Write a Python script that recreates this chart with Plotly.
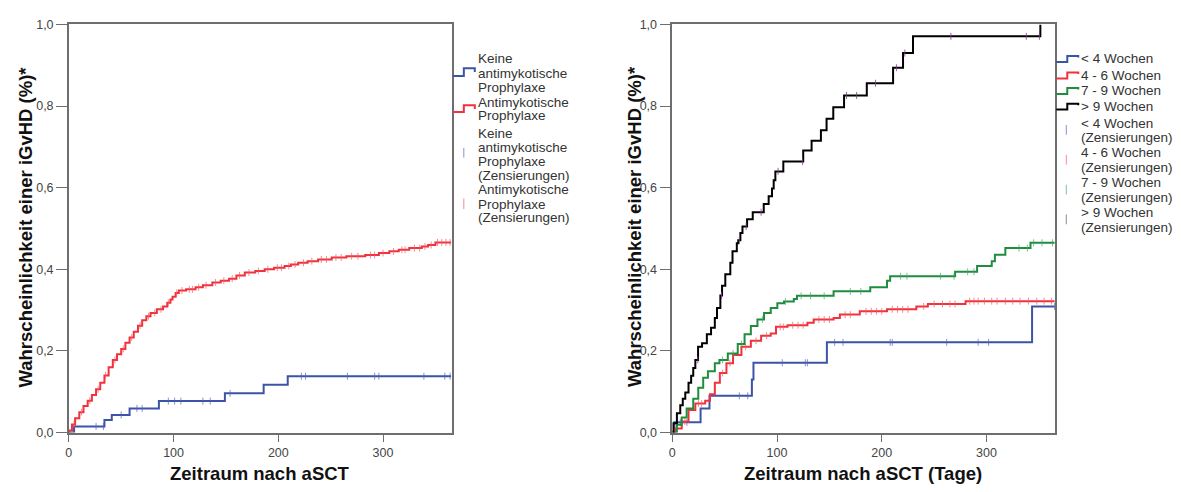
import numpy as np
import plotly.graph_objects as go

W, H = 1182, 492

# ---------------- data ----------------
# Left panel: cumulative probability (step events: day, value)
L_none_t = [5, 34, 41, 58, 86, 149, 186, 209]
L_none_v = [0.015, 0.031, 0.043, 0.059, 0.077, 0.096, 0.117, 0.138]
L_none_cens = [26, 33, 50, 65, 70, 95, 101, 107, 128, 135, 154, 222, 226, 266, 292, 296, 339, 359, 364]

L_pro_t = [0.5, 3, 6, 10, 14, 18, 22, 26, 30, 34, 38, 42, 46, 50, 54, 58, 62, 66, 70, 74, 78, 84, 90,
           94, 97, 99, 102, 105, 112, 121, 128, 137, 145, 153, 160, 168, 178, 187, 196, 206, 212, 219,
           228, 238, 251, 265, 283, 296, 306, 315, 325, 337, 343, 350]
L_pro_v = [0.005, 0.02, 0.035, 0.05, 0.065, 0.078, 0.092, 0.106, 0.122, 0.14, 0.16, 0.178, 0.192, 0.205,
           0.22, 0.233, 0.247, 0.262, 0.275, 0.285, 0.293, 0.302, 0.309, 0.318, 0.326, 0.333, 0.342,
           0.348, 0.351, 0.356, 0.361, 0.368, 0.372, 0.377, 0.385, 0.392, 0.396, 0.400, 0.404, 0.408,
           0.412, 0.416, 0.420, 0.424, 0.429, 0.432, 0.435, 0.440, 0.444, 0.448, 0.452, 0.456, 0.4595, 0.466]
L_pro_cens = [5, 12, 20, 28, 35, 44, 52, 60, 68, 76, 82, 88, 95, 103, 108, 115, 118, 124, 131, 140, 148,
              156, 163, 172, 181, 190, 199, 203, 210, 216, 224, 232, 241, 246, 255, 260, 270, 276, 288,
              292, 300, 310, 318, 321, 330, 335, 340, 346, 352, 356, 360, 364]
L_end = 365

# Right panel
R_lt4_t = [2, 27, 35.5, 76, 77.5, 147.6, 343.5]
R_lt4_v = [0.025, 0.059, 0.09, 0.13, 0.171, 0.221, 0.309]
R_lt4_cens = [7.6, 14, 64, 72, 105, 127, 129, 155, 163, 208, 210, 262, 292, 302, 365]

R_46_t = [3, 9, 15.5, 22, 31.4, 36, 40.6, 45.4, 51.7, 58, 66, 75, 84.8, 94, 99, 110, 129, 135, 154, 160,
          179, 205, 233, 244, 280]
R_46_v = [0.01, 0.027, 0.055, 0.071, 0.078, 0.094, 0.122, 0.146, 0.17, 0.19, 0.21, 0.225, 0.237, 0.243,
          0.259, 0.263, 0.269, 0.277, 0.281, 0.289, 0.297, 0.302, 0.309, 0.315, 0.322]
R_46_cens = [12, 25, 28, 48, 55, 70, 80, 90, 103, 106, 115, 120, 125, 140, 145, 150, 165, 170, 185, 190,
             195, 200, 210, 215, 220, 225, 240, 250, 258, 265, 270, 284, 288, 292, 298, 305, 310, 318,
             325, 332, 340, 348, 355, 362]

R_79_t = [4.4, 9, 13.7, 20, 24.8, 29.5, 34, 40.6, 45, 53, 62.5, 69, 75, 81.3, 87.6, 94, 100.3, 106.7, 116,
          119, 154, 189, 205, 208, 270, 291, 305, 308, 318, 342]
R_79_v = [0.019, 0.037, 0.059, 0.083, 0.110, 0.134, 0.15, 0.17, 0.178, 0.194, 0.217, 0.241, 0.261, 0.277,
          0.293, 0.305, 0.317, 0.321, 0.327, 0.335, 0.346, 0.356, 0.372, 0.383, 0.394, 0.408, 0.42, 0.436,
          0.452, 0.465]
R_79_cens = [48, 58, 66, 86, 108, 123, 132, 145, 170, 180, 218, 224, 256, 269, 282, 288, 331, 339, 345,
             353, 363]

R_gt9_t = [1, 4.4, 7.6, 10, 12.4, 15.5, 18, 20, 22, 24.6, 28.4, 33, 37, 40.6, 42.7, 45.9, 47.5, 50.6,
           55.4, 57.5, 61.6, 63, 65, 67, 71.4, 76.8, 87.3, 92, 95.2, 96.8, 98.4, 106, 125, 133, 141.9,
           147.3, 153.7, 164, 185.7, 210.8, 220.3, 229.8, 351.4]
R_gt9_v = [0.023, 0.047, 0.067, 0.083, 0.098, 0.122, 0.139, 0.158, 0.178, 0.21, 0.219, 0.241, 0.257,
           0.281, 0.305, 0.336, 0.36, 0.388, 0.416, 0.444, 0.464, 0.471, 0.489, 0.505, 0.523, 0.540,
           0.560, 0.579, 0.598, 0.618, 0.640, 0.664, 0.691, 0.715, 0.741, 0.769, 0.797, 0.826, 0.856,
           0.894, 0.930, 0.971, 1.0]
R_gt9_cens = [24.4, 47, 64, 70.5, 84.8, 101, 124.4, 166.3, 176, 194, 214, 222, 266, 338, 350.5]
R_end = 365

y_ticks = [0.0, 0.2, 0.4, 0.6, 0.8, 1.0]
x_ticks = [0, 100, 200, 300]

left_names = ["Keine antimykotische Prophylaxe", "Antimykotische Prophylaxe"]
right_names = ["< 4 Wochen", "4 - 6 Wochen", "7 - 9 Wochen", "> 9 Wochen"]

BLUE = "#3b54a6"
RED = "#f0323c"
GREEN = "#1f8c3e"
BLACK = "#000000"
CBLUE = "rgba(80,100,190,0.7)"
CRED = "rgba(245,90,100,0.7)"
CGREEN = "rgba(60,170,100,0.7)"
CBLACK = "rgba(130,60,140,0.8)"
CBLACK_LEG = "rgba(110,110,110,0.8)"


def step_xy(t, v, end):
    xs = [0] + list(t)
    ys = [0] + list(v)
    if end is not None and end > xs[-1]:
        xs.append(end)
        ys.append(ys[-1])
    return xs, ys


def cens_y(t, v, cens):
    tt = np.array([0] + list(t))
    vv = np.array([0] + list(v))
    idx = np.searchsorted(tt, np.array(cens), side="right") - 1
    return vv[idx]


fig = go.Figure()


def add_curve(t, v, cens, end, color, ccolor, xa, ya, name):
    xs, ys = step_xy(t, v, end)
    fig.add_trace(go.Scatter(x=xs, y=ys, mode="lines", line=dict(color=color, width=2, shape="hv"),
                             xaxis=xa, yaxis=ya, name=name, showlegend=False, hoverinfo="skip"))
    fig.add_trace(go.Scatter(x=cens, y=cens_y(t, v, cens), mode="markers",
                             marker=dict(symbol="line-ns", size=5, line=dict(color=ccolor, width=1)),
                             xaxis=xa, yaxis=ya, name=name + " (Zensierungen)", showlegend=False,
                             hoverinfo="skip", cliponaxis=False))


add_curve(L_none_t, L_none_v, L_none_cens, L_end, BLUE, CBLUE, "x", "y", left_names[0])
add_curve(L_pro_t, L_pro_v, L_pro_cens, L_end, RED, CRED, "x", "y", left_names[1])

add_curve(R_lt4_t, R_lt4_v, R_lt4_cens, R_end, BLUE, CBLUE, "x2", "y2", right_names[0])
add_curve(R_46_t, R_46_v, R_46_cens, R_end, RED, CRED, "x2", "y2", right_names[1])
add_curve(R_79_t, R_79_v, R_79_cens, R_end, GREEN, CGREEN, "x2", "y2", right_names[2])
add_curve(R_gt9_t, R_gt9_v, R_gt9_cens, None, BLACK, CBLACK, "x2", "y2", right_names[3])


def px(x):
    return x / W


def py(y):
    return 1 - y / H


AX = dict(showgrid=False, zeroline=False, showline=True, linecolor="#6e6e6e", linewidth=1.5,
          mirror=True, ticks="outside", tickcolor="#6e6e6e", tickwidth=1.2,
          tickfont=dict(family="Liberation Sans, Arial, sans-serif", size=12.5, color="#444444"))

fig.update_layout(
    width=W, height=H,
    margin=dict(l=0, r=0, t=0, b=0),
    paper_bgcolor="white", plot_bgcolor="white",
    separators=",.",
    showlegend=False,
    xaxis=dict(domain=[px(66), px(450)], range=[0, 365.7], tickvals=x_ticks, ticklen=8, anchor="y", **AX),
    yaxis=dict(domain=[py(438), py(18)], range=[0, 1], tickvals=y_ticks, tickformat=".1f", ticklen=11,
               anchor="x", **AX),
    xaxis2=dict(domain=[px(671), px(1055)], range=[0, 365.7], tickvals=x_ticks, ticklen=8, anchor="y2", **AX),
    yaxis2=dict(domain=[py(438), py(18)], range=[0, 1], tickvals=y_ticks, tickformat=".1f", ticklen=11,
                anchor="x2", **AX),
)

TITLE_FONT = dict(family="Liberation Sans, Arial, sans-serif", size=18.5, color="#111111")
ann = []
for xc, txt in [(258, "Zeitraum nach aSCT"), (862, "Zeitraum nach aSCT (Tage)")]:
    ann.append(dict(x=px(xc), y=py(480), xref="paper", yref="paper", text="<b>%s</b>" % txt,
                    showarrow=False, xanchor="center", yanchor="middle", font=TITLE_FONT))
for xc in [23, 633]:
    ann.append(dict(x=px(xc), y=py(226), xref="paper", yref="paper",
                    text="<b>Wahrscheinlichkeit einer iGvHD (%)*</b>", textangle=-90,
                    showarrow=False, xanchor="center", yanchor="middle", font=TITLE_FONT))

LEG_FONT = dict(family="Liberation Sans, Arial, sans-serif", size=13.5, color="#333333")
shapes = []


def leg_text(x, lines):
    for (yy, s) in lines:
        ann.append(dict(x=px(x), y=py(yy), xref="paper", yref="paper", text=s, showarrow=False,
                        xanchor="left", yanchor="middle", font=LEG_FONT))


def leg_step(x0, x1, x2, ylow, yhigh, yend, color):
    path = "M %f,%f L %f,%f L %f,%f L %f,%f L %f,%f" % (
        px(x0), py(ylow), px(x1), py(ylow), px(x1), py(yhigh), px(x2), py(yhigh), px(x2), py(yend))
    shapes.append(dict(type="path", path=path, xref="paper", yref="paper",
                       line=dict(color=color, width=2)))


def leg_cens(x, y0, y1, color):
    shapes.append(dict(type="line", x0=px(x), x1=px(x), y0=py(y0), y1=py(y1), xref="paper", yref="paper",
                       line=dict(color=color, width=1)))


# left legend
leg_step(451, 462, 473, 71, 63, 67, BLUE)
leg_text(474, [(53, "Keine"), (68, "antimykotische"), (83, "Prophylaxe")])
leg_step(451, 462, 473, 108, 101, 105, RED)
leg_text(474, [(98, "Antimykotische"), (112, "Prophylaxe")])
leg_cens(462, 145, 155, CBLUE)
leg_text(474, [(130, "Keine"), (145, "antimykotische"), (159, "Prophylaxe"), (173, "(Zensierungen)")])
leg_cens(462, 197, 208, CRED)
leg_text(474, [(188, "Antimykotische"), (203, "Prophylaxe"), (217, "(Zensierungen)")])

# right legend
ys_main = [53, 70, 86, 102]
cols = [BLUE, RED, GREEN, BLACK]
for yy, c, nm in zip(ys_main, cols, right_names):
    leg_step(1056, 1067, 1078, yy + 3.5, yy - 2.5, yy - 1, c)
    leg_text(1079, [(yy, nm)])
ccols = [CBLUE, CRED, CGREEN, CBLACK_LEG]
for k, (c, nm) in enumerate(zip(ccols, right_names)):
    y0 = 119.5 + k * 30.7
    leg_cens(1066, y0 + 2, y0 + 12, c)
    leg_text(1079, [(y0, nm), (y0 + 15, "(Zensierungen)")])

fig.update_layout(annotations=ann, shapes=shapes)

fig.write_html("out.html")
